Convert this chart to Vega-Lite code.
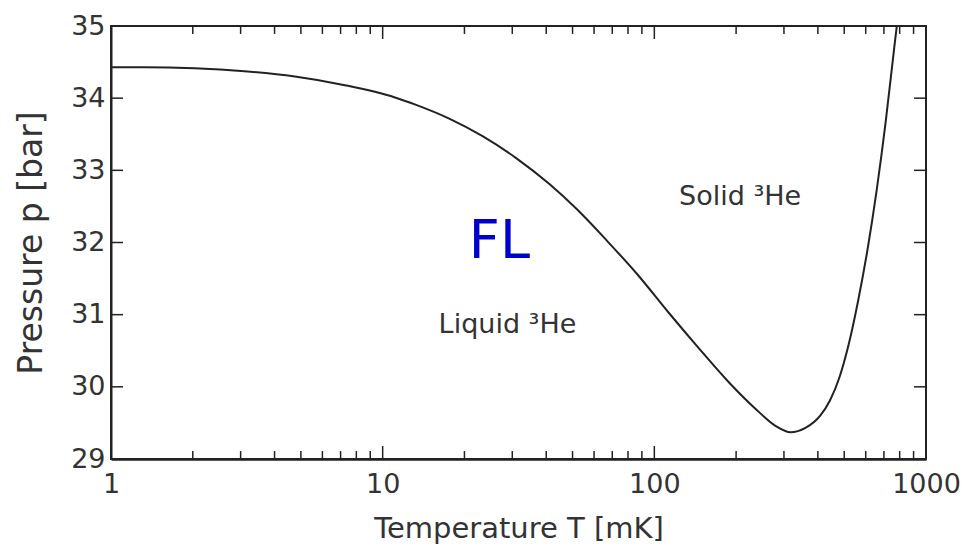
{
  "$schema": "https://vega.github.io/schema/vega-lite/v6.json",
  "width": 815,
  "height": 433,
  "autosize": "none",
  "padding": {"left": 111, "top": 26, "right": 39, "bottom": 90},
  "background": "white",
  "config": {
    "view": {"stroke": "#222222", "strokeWidth": 2},
    "font": "DejaVu Sans",
    "axis": {
      "grid": false,
      "ticks": false,
      "domainColor": "#222222",
      "domainWidth": 2,
      "labelColor": "#333333",
      "titleColor": "#333333",
      "labelFont": "DejaVu Sans",
      "titleFont": "DejaVu Sans",
      "titleFontWeight": "normal",
      "labelFontSize": 27
    }
  },
  "datasets": {
    "curve": [
      {"T": 1, "p": 34.43},
      {"T": 1.33, "p": 34.43},
      {"T": 2.03, "p": 34.415},
      {"T": 3.1, "p": 34.373},
      {"T": 4.75, "p": 34.3},
      {"T": 7.26, "p": 34.18},
      {"T": 11.1, "p": 34.01},
      {"T": 13.2, "p": 33.91},
      {"T": 17.5, "p": 33.72},
      {"T": 23.4, "p": 33.47},
      {"T": 31.0, "p": 33.17},
      {"T": 41.1, "p": 32.81},
      {"T": 51.9, "p": 32.46},
      {"T": 67.1, "p": 32.02},
      {"T": 87.0, "p": 31.55},
      {"T": 112.8, "p": 31.03},
      {"T": 146.2, "p": 30.53},
      {"T": 189.5, "p": 30.05},
      {"T": 235, "p": 29.7},
      {"T": 279, "p": 29.46},
      {"T": 317, "p": 29.37},
      {"T": 360, "p": 29.43},
      {"T": 408, "p": 29.6},
      {"T": 443, "p": 29.81},
      {"T": 481, "p": 30.14},
      {"T": 521, "p": 30.61},
      {"T": 563, "p": 31.2},
      {"T": 609, "p": 31.9},
      {"T": 658, "p": 32.72},
      {"T": 710, "p": 33.66},
      {"T": 764, "p": 34.7},
      {"T": 781, "p": 35.0}
    ],
    "decades": [{"T": 1}, {"T": 10}, {"T": 100}, {"T": 1000}],
    "subdecades": [
      {"T": 2}, {"T": 3}, {"T": 4}, {"T": 5}, {"T": 6}, {"T": 7}, {"T": 8}, {"T": 9},
      {"T": 20}, {"T": 30}, {"T": 40}, {"T": 50}, {"T": 60}, {"T": 70}, {"T": 80}, {"T": 90},
      {"T": 200}, {"T": 300}, {"T": 400}, {"T": 500}, {"T": 600}, {"T": 700}, {"T": 800}, {"T": 900}
    ],
    "pressures": [{"p": 30}, {"p": 31}, {"p": 32}, {"p": 33}, {"p": 34}],
    "phases": [
      {"T": 207, "p": 32.63, "label": "Solid ³He"},
      {"T": 28.8, "p": 30.85, "label": "Liquid ³He"}
    ],
    "tag": [
      {"T": 26.9, "p": 32.01, "label": "FL"}
    ]
  },
  "layer": [
    {
      "data": {"name": "curve"},
      "mark": {"type": "line", "color": "#222222", "strokeWidth": 2, "interpolate": "monotone", "clip": true},
      "encoding": {
        "x": {
          "field": "T",
          "type": "quantitative",
          "scale": {"type": "log", "domain": [1, 1000], "nice": false},
          "axis": {
            "orient": "bottom",
            "title": "Temperature T [mK]",
            "titleFontSize": 29,
            "titlePadding": 17,
            "values": [1, 10, 100, 1000],
            "format": "d",
            "labelPadding": 12,
            "labelFlush": false,
            "labelOverlap": false,
            "domainWidth": 2.5
          }
        },
        "y": {
          "field": "p",
          "type": "quantitative",
          "scale": {"domain": [29, 35], "nice": false, "zero": false},
          "axis": {
            "orient": "left",
            "title": "Pressure p [bar]",
            "titleFontSize": 33,
            "titlePadding": 22,
            "values": [29, 30, 31, 32, 33, 34, 35],
            "format": "d",
            "labelPadding": 6,
            "labelFlush": false,
            "labelOverlap": false
          }
        }
      }
    },
    {
      "data": {"name": "decades"},
      "mark": {"type": "rule", "color": "#222222", "strokeWidth": 1.5},
      "encoding": {
        "x": {"field": "T", "type": "quantitative"},
        "y": {"datum": 29},
        "y2": {"datum": 29.18}
      }
    },
    {
      "data": {"name": "decades"},
      "mark": {"type": "rule", "color": "#222222", "strokeWidth": 1.5},
      "encoding": {
        "x": {"field": "T", "type": "quantitative"},
        "y": {"datum": 35},
        "y2": {"datum": 34.82}
      }
    },
    {
      "data": {"name": "subdecades"},
      "mark": {"type": "rule", "color": "#222222", "strokeWidth": 1.5},
      "encoding": {
        "x": {"field": "T", "type": "quantitative"},
        "y": {"datum": 29},
        "y2": {"datum": 29.11}
      }
    },
    {
      "data": {"name": "subdecades"},
      "mark": {"type": "rule", "color": "#222222", "strokeWidth": 1.5},
      "encoding": {
        "x": {"field": "T", "type": "quantitative"},
        "y": {"datum": 35},
        "y2": {"datum": 34.89}
      }
    },
    {
      "data": {"name": "pressures"},
      "mark": {"type": "rule", "color": "#222222", "strokeWidth": 1.5},
      "encoding": {
        "y": {"field": "p", "type": "quantitative"},
        "x": {"datum": 1},
        "x2": {"datum": 1.107}
      }
    },
    {
      "data": {"name": "pressures"},
      "mark": {"type": "rule", "color": "#222222", "strokeWidth": 1.5},
      "encoding": {
        "y": {"field": "p", "type": "quantitative"},
        "x": {"datum": 1000},
        "x2": {"datum": 903.3}
      }
    },
    {
      "data": {"name": "phases"},
      "mark": {"type": "text", "font": "DejaVu Sans", "fontSize": 27, "color": "#333333", "align": "center", "baseline": "middle"},
      "encoding": {
        "x": {"field": "T", "type": "quantitative"},
        "y": {"field": "p", "type": "quantitative"},
        "text": {"field": "label"}
      }
    },
    {
      "data": {"name": "tag"},
      "mark": {"type": "text", "font": "DejaVu Sans", "fontSize": 54, "color": "#0000cc", "align": "center", "baseline": "middle"},
      "encoding": {
        "x": {"field": "T", "type": "quantitative"},
        "y": {"field": "p", "type": "quantitative"},
        "text": {"field": "label"}
      }
    }
  ]
}
